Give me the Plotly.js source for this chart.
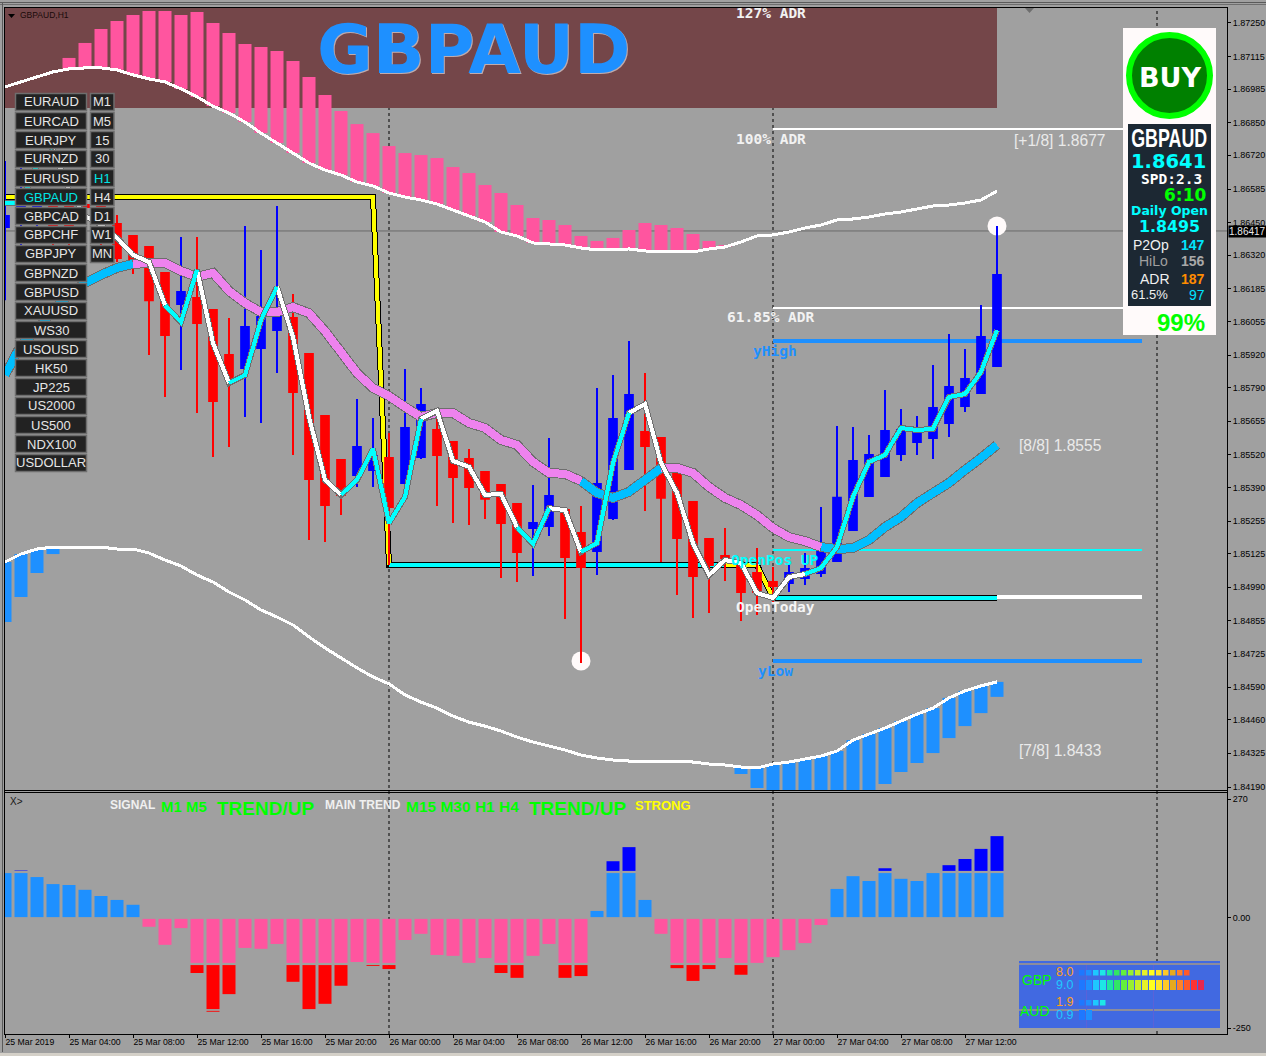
<!DOCTYPE html>
<html><head><meta charset="utf-8">
<script src="https://cdn.plot.ly/plotly-3.0.1.min.js"></script>
<style>html,body{margin:0;padding:0;background:#A0A0A0}#c{width:1266px;height:1056px}
.scatterlayer path.js-line{shape-rendering:crispEdges !important}</style>
</head><body><div id="c"></div>
<script>
const timeTickIdx=[0,4,8,12,16,20,24,28,32,36,40,44,48,52,56,60];
const timeTickText=["25 Mar 2019","25 Mar 04:00","25 Mar 08:00","25 Mar 12:00","25 Mar 16:00","25 Mar 20:00","26 Mar 00:00","26 Mar 04:00","26 Mar 08:00","26 Mar 12:00","26 Mar 16:00","26 Mar 20:00","27 Mar 00:00","27 Mar 04:00","27 Mar 08:00","27 Mar 12:00"];
const priceTicks=[1.8725,1.87115,1.86985,1.8685,1.8672,1.86585,1.8645,1.8632,1.86185,1.86055,1.8592,1.8579,1.85655,1.8552,1.8539,1.85255,1.85125,1.8499,1.84855,1.84725,1.8459,1.8446,1.84325,1.8419];
const open=[1.86433,1.86453,1.86493,1.86517,1.86517,1.86521,1.86521,1.86445,1.86397,1.86353,1.86249,1.86124,1.86149,1.861,1.8592,1.85868,1.85948,1.8602,1.86068,1.85924,1.85676,1.855,1.8544,1.8546,1.85508,1.85408,1.85512,1.8562,1.85572,1.85504,1.85452,1.854,1.85323,1.85227,1.85235,1.85299,1.85207,1.85135,1.85267,1.85464,1.85612,1.85588,1.85444,1.85331,1.85183,1.85115,1.85079,1.85047,1.85011,1.85007,1.85027,1.85047,1.85095,1.85219,1.85356,1.85436,1.85524,1.85572,1.85588,1.85648,1.85716,1.85768,1.85876];
const high=[1.86697,1.86669,1.86589,1.86581,1.86541,1.86561,1.86541,1.86481,1.86397,1.86353,1.86249,1.86393,1.86393,1.861,1.86068,1.86437,1.86341,1.86517,1.86165,1.85924,1.85676,1.855,1.85744,1.85668,1.85608,1.85864,1.85788,1.857,1.85572,1.85544,1.85452,1.85404,1.85323,1.854,1.85588,1.85299,1.85315,1.85788,1.8584,1.85976,1.85848,1.85588,1.85444,1.85331,1.85183,1.85227,1.85083,1.85147,1.85071,1.85079,1.85127,1.85311,1.85636,1.85632,1.856,1.8578,1.85704,1.85676,1.8588,1.86004,1.85944,1.8612,1.86437];
const low=[1.8614,1.86341,1.86421,1.86361,1.86341,1.86441,1.86361,1.86293,1.86245,1.8592,1.85752,1.8586,1.85688,1.85512,1.85552,1.85672,1.85648,1.85848,1.8552,1.85179,1.85171,1.85279,1.85392,1.85392,1.85079,1.85352,1.85504,1.85315,1.85247,1.85239,1.85263,1.85027,1.85011,1.85035,1.85195,1.84863,1.84687,1.85039,1.85259,1.8546,1.85295,1.85091,1.84959,1.84867,1.84887,1.85015,1.84855,1.84879,1.84931,1.84971,1.84999,1.85031,1.85091,1.85215,1.85352,1.85432,1.85496,1.8552,1.85504,1.85592,1.85692,1.85764,1.85872];
const close=[1.86477,1.86521,1.86521,1.86429,1.86381,1.86513,1.86413,1.86309,1.86305,1.8614,1.86,1.86173,1.86048,1.85736,1.85824,1.86032,1.86072,1.8608,1.85772,1.85424,1.85319,1.8536,1.85552,1.85516,1.85311,1.85628,1.8572,1.8552,1.85432,1.85392,1.85344,1.85247,1.85131,1.85247,1.85356,1.85111,1.85071,1.85404,1.85664,1.8576,1.85556,1.85348,1.85187,1.85035,1.85079,1.85107,1.84971,1.84971,1.84995,1.85047,1.85063,1.85139,1.85348,1.85496,1.8552,1.85616,1.8562,1.85608,1.85708,1.85792,1.85824,1.85992,1.86241];
const upperBand=[1.86994,1.87014,1.87034,1.87054,1.87066,1.8707,1.8707,1.87062,1.87042,1.87026,1.87014,1.86986,1.86954,1.86917,1.86889,1.86853,1.86809,1.86769,1.86729,1.86689,1.86661,1.86641,1.86613,1.86597,1.86569,1.86553,1.86541,1.86525,1.86501,1.86477,1.86453,1.86413,1.86397,1.86369,1.86365,1.86361,1.86349,1.86341,1.86341,1.86345,1.86337,1.86333,1.86333,1.86333,1.86345,1.86353,1.86373,1.86397,1.86401,1.86413,1.86429,1.86441,1.86461,1.86465,1.86473,1.86485,1.86493,1.86505,1.86517,1.86521,1.86529,1.86541,1.86577];
const lowerBand=[1.85091,1.85123,1.85143,1.85151,1.85151,1.85151,1.85151,1.85143,1.85143,1.85127,1.85099,1.85075,1.85039,1.85011,1.84971,1.84939,1.84899,1.84871,1.84839,1.84791,1.84747,1.84707,1.84667,1.84631,1.84603,1.84559,1.8453,1.84506,1.84474,1.8445,1.84434,1.84414,1.8439,1.8437,1.84354,1.84338,1.84318,1.84306,1.84298,1.84294,1.84294,1.84294,1.84294,1.8429,1.84282,1.84278,1.8427,1.84266,1.84282,1.8429,1.84302,1.84314,1.84334,1.84378,1.84402,1.84426,1.84454,1.84482,1.84506,1.84547,1.84575,1.84595,1.84611];
const slowMA=[1.8584,1.8596,1.8602,1.861,1.86161,1.86209,1.86241,1.86269,1.86285,1.86289,1.86289,1.86257,1.86233,1.86249,1.86177,1.86128,1.86092,1.86092,1.86112,1.86088,1.86016,1.85932,1.85848,1.85788,1.85756,1.85712,1.85672,1.85688,1.85688,1.85648,1.85628,1.8558,1.8556,1.85492,1.85448,1.85444,1.85416,1.85368,1.85348,1.85372,1.8542,1.85468,1.85468,1.85448,1.85392,1.85348,1.85319,1.85279,1.85227,1.85191,1.85175,1.85151,1.85143,1.85147,1.85179,1.85231,1.85271,1.85327,1.85368,1.85408,1.8546,1.85508,1.8556];
const fastMA=[1.86529,1.86529,1.86681,1.86741,1.86581,1.86477,1.86441,1.86389,1.86321,1.86293,1.8612,1.86052,1.86261,1.85968,1.85808,1.8584,1.8606,1.86193,1.85992,1.85672,1.8542,1.8536,1.8542,1.85544,1.85247,1.85352,1.85664,1.85696,1.85496,1.85472,1.8536,1.85364,1.85231,1.85163,1.85307,1.85299,1.85131,1.85167,1.85488,1.85688,1.85724,1.85488,1.85368,1.85167,1.85039,1.85099,1.85087,1.84967,1.84947,1.85031,1.85043,1.85067,1.85151,1.85352,1.85492,1.8552,1.85628,1.8562,1.85624,1.85752,1.85764,1.85852,1.8602];
const slowBlueRuns=[[0,8],[36,41],[51,62]];
const slowVioletRuns=[[8,36],[41,51]];
const fastCyanRuns=[[0,3],[10,12],[14,17],[21,26],[32,34],[36,39],[50,62]];
const fastWhiteRuns=[[3,10],[12,14],[17,21],[26,32],[34,36],[39,50]];
const pinkTop=[1.8711,1.8717,1.87226,1.87258,1.87282,1.87298,1.87298,1.87282,1.87294,1.8725,1.8721,1.87166,1.87154,1.87138,1.87098,1.87034,1.86962,1.86897,1.86845,1.86809,1.86757,1.86729,1.86721,1.86709,1.86673,1.86649,1.86601,1.86569,1.86521,1.86469,1.86461,1.86441,1.86397,1.86377,1.86389,1.86421,1.86449,1.86441,1.86429,1.86405,1.86377,1.86361];
const pinkFirstIdx=4;
const blueLeftBottom=[1.84851,1.84951,1.85047,1.85123];
const blueRightBottom=[1.84242,1.84186,1.84138,1.84138,1.84138,1.84138,1.84138,1.84138,1.84138,1.84202,1.8425,1.84286,1.84326,1.84386,1.84434,1.84486,1.84551];
const blueRightFirstIdx=46;
const osc=[102,102,93,77,75,64,50,41,30,-20,-61,-23,-102,-102,-102,-68,-70,-59,-102,-102,-102,-102,-100,-102,-102,-50,-36,-84,-86,-102,-91,-102,-102,-86,-59,-102,-102,16,102,102,41,-36,-102,-102,-102,-91,-102,-102,-89,-73,-57,-16,66,95,84,102,89,84,102,102,102,102,102];
const overUpIdx=[1,38,39,55,59,60,61,62];
const overUpTop=[108,129,161,113,120,134,157,186];
const overDownIdx=[12,13,14,18,19,20,21,23,24,31,32,35,36,42,43,44,46];
const overDownBottom=[-125,-207,-173,-145,-207,-195,-154,-109,-116,-125,-136,-136,-132,-114,-143,-116,-129];
const symbols=["EURAUD","EURCAD","EURJPY","EURNZD","EURUSD","GBPAUD","GBPCAD","GBPCHF","GBPJPY","GBPNZD","GBPUSD","XAUUSD","WS30","USOUSD","HK50","JP225","US2000","US500","NDX100","USDOLLAR"];
const timeframes=["M1","M5","15","30","H1","H4","D1","W1","MN"];
const strengthValues=[8.0,9.0,1.9,0.9];
const strengthColors=["#1E78FF","#1E90FF","#1EC8FF","#1EE6E6","#1EE6A0","#32E664","#64F03C","#96F032","#C8F028","#E6F028","#FFFF1E","#FFE628","#FFC828","#E6AA1E","#FF8228","#FF5A28","#FF3232","#E62850"];

const levelADR100=1.86825, levelADR62=1.86108, levelYHigh=1.85976, levelYLow=1.84695, levelOpenPos=1.85139, levelOpenDay=1.84951, bid=1.86417;
const stepHigh=1.86553, stepMid=1.85079, stepLow=1.84947;
const extremeIdx=[36,62], extremePrice=[1.84695,1.86437];
const adrBandLow=1.86909, adrBandHigh=1.8732;

const idx=open.map((_,i)=>i);
const PX0=5,PW=1222,PT=8,PH=1026;
const X=p=>(p-PX0)/PW, Y=p=>1-(p-PT)/PH;
const sliceRuns=(vals,runs)=>{const xs=[],ys=[];runs.forEach(r=>{for(let i=r[0];i<=r[1];i++){xs.push(i);ys.push(vals[i]);}xs.push(null);ys.push(null);});return{x:xs,y:ys};};
const line=(x,y,color,width,yaxis,extra)=>Object.assign({type:'scatter',mode:'lines',x,y,xaxis:'x',yaxis:yaxis||'y',line:{color,width,shape:'linear',simplify:false},hoverinfo:'skip',showlegend:false},extra||{});
const bar=(x,base,len,color,yaxis)=>({type:'bar',x,y:len,base,width:0.8125,marker:{color,line:{width:0}},xaxis:'x',yaxis,hoverinfo:'skip',showlegend:false});

const pinkX=pinkTop.map((_,i)=>i+pinkFirstIdx);
const pinkBase=pinkX.map(i=>upperBand[i]);
const blueRX=blueRightBottom.map((_,i)=>i+blueRightFirstIdx);
const endLevels=69.875, endHigh=71.06;
const posX=idx.filter(i=>osc[i]>0), negX=idx.filter(i=>osc[i]<0);
const traces=[
 bar(pinkX,pinkBase,pinkX.map((i,k)=>pinkTop[k]-upperBand[i]),'#FF559F','y'),
 bar([0,1,2,3],blueLeftBottom,blueLeftBottom.map((b,i)=>lowerBand[i]-b),'#1E90FF','y'),
 bar(blueRX,blueRightBottom,blueRX.map((i,k)=>lowerBand[i]-blueRightBottom[k]),'#1E90FF','y'),
 line(idx,upperBand,'#FFFFFF',3),
 line(idx,lowerBand,'#FFFFFF',3),
 line([48,endLevels],[levelADR100,levelADR100],'#FFFFFF',2),
 line([48,endLevels],[levelADR62,levelADR62],'#FFFFFF',2),
 line([48,endHigh],[levelYHigh,levelYHigh],'#1E90FF',4),
 line([48,endHigh],[levelYLow,levelYLow],'#1E90FF',4),
 line([48,endHigh],[levelOpenPos,levelOpenPos],'#00FFFF',2),
 line([62,endHigh],[levelOpenDay,levelOpenDay],'#FFFFFF',4),
 line([0,23,24,45,47,48,62],[stepHigh,stepHigh,stepMid,stepMid,stepMid,stepLow,stepLow],'#000000',6),
 line([0,23,24],[stepHigh,stepHigh,stepMid],'#FFFF00',4),
 line([24,45],[stepMid,stepMid],'#00FFFF',4),
 line([45,47,48],[stepMid,stepMid,stepLow],'#FFFF00',4),
 line([48,62],[stepLow,stepLow],'#00FFFF',4),
 {type:'scatter',mode:'markers',x:extremeIdx,y:extremePrice,marker:{color:'#FFFAFA',size:19,line:{width:0}},xaxis:'x',yaxis:'y',hoverinfo:'skip',showlegend:false},
 {type:'candlestick',x:idx,open,high,low,close,xaxis:'x',yaxis:'y3',whiskerwidth:0,
  increasing:{line:{color:'#0000FF',width:2},fillcolor:'#0000FF'},
  decreasing:{line:{color:'#FF0000',width:2},fillcolor:'#FF0000'},hoverinfo:'skip',showlegend:false},
 line(idx,slowMA,'#6E6E6E',10,'y3'),
 line(sliceRuns(slowMA,slowBlueRuns).x,sliceRuns(slowMA,slowBlueRuns).y,'#00BFFF',8,'y3'),
 line(sliceRuns(slowMA,slowVioletRuns).x,sliceRuns(slowMA,slowVioletRuns).y,'#EE82EE',8,'y3'),
 line(idx,fastMA,'#6E6E6E',6,'y3'),
 line(sliceRuns(fastMA,fastWhiteRuns).x,sliceRuns(fastMA,fastWhiteRuns).y,'#FFFFFF',4,'y3'),
 line(sliceRuns(fastMA,fastCyanRuns).x,sliceRuns(fastMA,fastCyanRuns).y,'#00FFFF',4,'y3'),
 bar(posX,posX.map(()=>2),posX.map(i=>osc[i]-2),'#1E90FF','y2'),
 bar(negX,negX.map(()=>-2),negX.map(i=>osc[i]+2),'#FF559F','y2'),
 bar(overUpIdx,overUpIdx.map(()=>107),overUpTop.map(v=>v-107),'#0000FF','y2'),
 bar(overDownIdx,overDownIdx.map(()=>-107),overDownBottom.map(v=>v+107),'#FF0000','y2'),
 bar([13],[-211],[-2],'#FF0000','y2')
];

const shapes=[];
const rectP=(x0,y0,x1,y1,fill,lc,lw,layer)=>shapes.push({type:'rect',xref:'paper',yref:'paper',x0:X(x0),x1:X(x1),y0:Y(y0),y1:Y(y1),fillcolor:fill,line:{color:lc||fill,width:lw===undefined?0:lw},layer:layer||'above'});
const lineP=(x0,y0,x1,y1,c,w)=>shapes.push({type:'line',xref:'paper',yref:'paper',x0:X(x0),x1:X(x1),y0:Y(y0),y1:Y(y1),line:{color:c,width:w},layer:'above'});
shapes.push({type:'rect',xref:'x',yref:'y',x0:0,x1:62,y0:adrBandLow,y1:adrBandHigh,fillcolor:'#744649',line:{width:0},layer:'below'});
[24,48,72].forEach(i=>shapes.push({type:'line',xref:'x',yref:'paper',x0:i,x1:i,y0:0,y1:1,line:{color:'#000000',width:1,dash:'3px,3px'},layer:'below'}));
shapes.push({type:'line',xref:'paper',yref:'y',x0:0,x1:1,y0:bid,y1:bid,line:{color:'#6A6A6A',width:1},layer:'below'});
// frame
lineP(4.5,7,4.5,1034,'#000',1);lineP(1227.5,7,1227.5,1034,'#000',1);
lineP(4,7.5,1228,7.5,'#000',1);lineP(4,790.5,1228,790.5,'#000',1);lineP(4,792.5,1228,792.5,'#000',1);lineP(4,1034.5,1228,1034.5,'#000',1);
lineP(0,2.5,1266,2.5,'#5A5A5A',1);lineP(0,4.5,1266,4.5,'#6E6E6E',1);lineP(2.5,2,2.5,1052,'#5A5A5A',1);
rectP(0,1053,1266,1056,'#D4D0C8');
shapes.push({type:'path',xref:'paper',yref:'paper',path:`M ${X(1025)} ${Y(8)} L ${X(1034)} ${Y(8)} L ${X(1029.5)} ${Y(13)} Z`,fillcolor:'#6E6E6E',line:{width:0},layer:'above'});
shapes.push({type:'path',xref:'paper',yref:'paper',path:`M ${X(8)} ${Y(14)} L ${X(15)} ${Y(14)} L ${X(11.5)} ${Y(18)} Z`,fillcolor:'#000',line:{width:0},layer:'above'});
// buttons
symbols.forEach((s,i)=>rectP(15.5,93.5+19*i,86.5,110.5+19*i,'#222222','#6E6E6E',1.5));
timeframes.forEach((s,i)=>rectP(90.5,93.5+19*i,114,110.5+19*i,'#222222','#6E6E6E',1.5));
// info panel
rectP(1123,28,1216,335,'#FFFAFA');
shapes.push({type:'circle',xref:'paper',yref:'paper',x0:X(1129),x1:X(1210),y0:Y(35),y1:Y(116),fillcolor:'#008000',line:{color:'#00FF00',width:6},layer:'above'});
rectP(1128,124,1211,306,'#1C2833');
// strength box
rectP(1019,961,1220,1028,'#4169E1');
rectP(1019,963,1220,965,'#8C8C9C');
rectP(1019,1009,1220,1011,'#8C8C9C');
lineP(1086.5,965,1086.5,1028,'#5A62D8',1);lineP(1153.5,965,1153.5,1028,'#5A62D8',1);
const rows=[[970,975.5,5.5],[980,990,6],[1000,1005.5,5.5],[1010,1020,6]];
strengthValues.forEach((v,r)=>{const n=Math.round(v*2);for(let k=0;k<n;k++){rectP(1079+7*k,rows[r][0],1079+7*k+rows[r][2],rows[r][1],strengthColors[k]);}});

const ann=[];
const T=(text,x,y,size,color,opt)=>{opt=opt||{};ann.push({text:opt.bold?`<b>${text}</b>`:text,xref:'paper',yref:'paper',x:X(x),y:Y(y),xanchor:opt.anchor||'center',yanchor:'middle',showarrow:false,borderpad:0,font:Object.assign({family:opt.font||'"Liberation Sans"',size,color},opt.shadow?{shadow:opt.shadow}:{}),bgcolor:opt.bg});};
const MONO='"DejaVu Sans Mono"', DJ='"DejaVu Sans"';
T('GBPAUD,H1',19,15.5,8.5,'#1A0A0A',{anchor:'left'});
T('X>',9,801,10,'#1A1A1A',{anchor:'left'});
T('GBPAUD',473.5,49,68,'#1E90FF',{bold:true,font:DJ,shadow:'1px 1px 0 rgba(255,255,255,0.55)'});
T('127% ADR',771,13,14.5,'#F2F2F2',{bold:true,font:MONO});
T('100% ADR',771,139,14.5,'#F2F2F2',{bold:true,font:MONO});
T('61.85% ADR',771,317,14.5,'#F2F2F2',{bold:true,font:MONO});
T('yHigh',775,351,14.5,'#1E90FF',{bold:true,font:MONO});
T('yLow',775,671,14.5,'#1E90FF',{bold:true,font:MONO});
T('OpenPos UP',775,560,14.5,'#00FFFF',{bold:true,font:MONO});
T('OpenToday',775,607,14.5,'#F5F5F5',{bold:true,font:MONO});
T('[+1/8] 1.8677',1013,140,15.6,'#EAEAEA',{anchor:'left'});
T('[8/8] 1.8555',1018,445,15.6,'#EAEAEA',{anchor:'left'});
T('[7/8] 1.8433',1018,750,15.6,'#EAEAEA',{anchor:'left'});
symbols.forEach((s,i)=>T(s,51,102+19*i,13,s==='GBPAUD'?'#00E5E5':'#E6E6E6'));
timeframes.forEach((s,i)=>T(s,102,102+19*i,13,s==='H1'?'#00E5E5':'#E6E6E6'));
T('BUY',1170,77,27,'#FFFFFF',{bold:true,font:DJ});
T('GBPAUD',1169,138,25,'#FFFFFF',{bold:true});
T('1.8641',1168.5,161,19.5,'#00FFFF',{bold:true,font:DJ});
T('SPD:2.3',1171,179,14.5,'#FFFFFF',{bold:true,font:MONO});
T('6:10',1207,195,17,'#00FF00',{bold:true,font:DJ,anchor:'right'});
T('Daily Open',1169,211,12.5,'#00FFFF',{bold:true,font:DJ});
T('1.8495',1169,227,15.8,'#00FFFF',{bold:true,font:DJ});
T('P2Op',1151,245,14,'#F0F0F0');T('147',1206,245,14,'#00E5FF',{anchor:'right',bold:true});
T('HiLo',1153,261,14,'#A0A0A0');T('156',1206,261,14,'#A8A8A8',{anchor:'right',bold:true});
T('ADR',1155,279,14,'#F0F0F0');T('187',1206,279,14,'#FF8C00',{anchor:'right',bold:true});
T('61.5%',1149,295,13,'#F0F0F0');T('97',1206,295,14,'#00E5FF',{anchor:'right'});
T('99%',1181,322,24,'#00FF00',{bold:true});
T('1.86417',1247.5,231.5,10,'#E8E8E8',{bg:'#000000'});
T('SIGNAL',132.5,805,12,'#F0F0F0',{bold:true});
T('M1 M5',184,806,15,'#00FF00',{bold:true});
T('TREND/UP',265,808,19,'#00FF00',{bold:true});
T('MAIN TREND',362.5,805,12,'#F0F0F0',{bold:true});
T('M15 M30 H1 H4',462.5,806,15.5,'#00FF00',{bold:true});
T('TREND/UP',577.5,808,19,'#00FF00',{bold:true});
T('STRONG',662.5,805,13,'#FFFF00',{bold:true});
T('GBP',1036.5,980,14,'#00FF00');T('AUD',1035,1011,14,'#00FF00');
strengthValues.forEach((v,r)=>T(v.toFixed(1),1064,[972,985,1002,1015][r],12.5,r%2?'#1EC8FF':'#FFA020'));

const tickFont={family:'"Liberation Sans"',size:8.7,color:'#000'};
const yTickFont={family:'"Liberation Sans"',size:9,color:'#000'};
const layout={width:1266,height:1056,margin:{l:5,r:39,t:8,b:22,pad:0},paper_bgcolor:'#A0A0A0',plot_bgcolor:'#A0A0A0',showlegend:false,barmode:'overlay',boxgap:0.3125,boxmode:'overlay',
 xaxis:{domain:[0,1],range:[0,76.375],anchor:'y2',showgrid:false,zeroline:false,tickmode:'array',tickvals:timeTickIdx,ticktext:timeTickText,ticks:'outside',ticklen:3,tickcolor:'#000',tickfont:tickFont,ticklabelposition:'outside right',rangeslider:{visible:false},tickangle:0,automargin:false},
 yaxis:{domain:[(1034-790)/1026,1],range:[1.84178,1.8731],anchor:'x',side:'right',showgrid:false,zeroline:false,tickmode:'array',tickvals:priceTicks,tickformat:'.5f',ticks:'outside',ticklen:3,tickcolor:'#000',tickfont:yTickFont,automargin:false},
 yaxis3:{domain:[(1034-790)/1026,1],range:[1.84178,1.8731],overlaying:'y',anchor:'x',side:'right',visible:false,showgrid:false,zeroline:false},
 yaxis2:{domain:[0,(1034-793)/1026],range:[-263.6,284],anchor:'x',side:'right',showgrid:false,zeroline:false,tickmode:'array',tickvals:[270,0,-250],ticktext:['270','0.00','-250'],ticks:'outside',ticklen:3,tickcolor:'#000',tickfont:yTickFont,automargin:false},
 shapes,annotations:ann};
Plotly.newPlot('c',traces,layout,{displayModeBar:false,staticPlot:true}).then(()=>{
  document.querySelectorAll('.annotation-text').forEach(t=>{
    if(t.textContent==='GBPAUD' && parseFloat(t.style.fontSize)===25){t.setAttribute('textLength','76');t.setAttribute('lengthAdjust','spacingAndGlyphs');}
  });
});
</script></body></html>
